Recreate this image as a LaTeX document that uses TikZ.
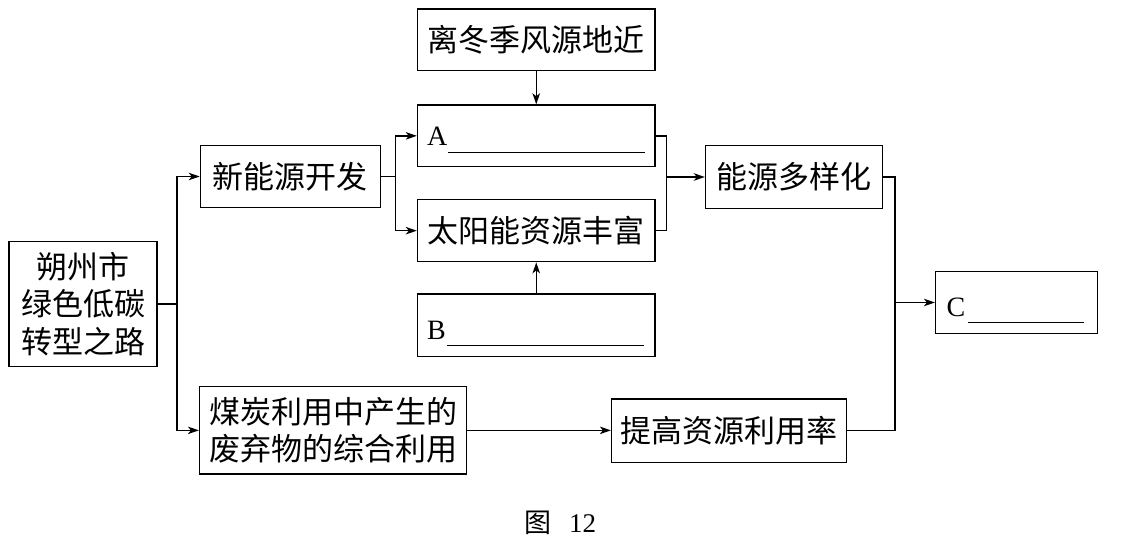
\documentclass[tikz,border=0pt]{standalone}
\usepackage{fontspec}
\setmainfont{Liberation Serif}
\newfontfamily\cjk{Noto Sans CJK SC}
\usetikzlibrary{arrows.meta}
\tikzset{
  box/.style={draw, line width=1.4pt, inner sep=0pt, align=center,
    font=\cjk\fontsize{31}{37.5}\selectfont},
  conn/.style={line width=1.4pt},
  arr/.style={conn, -{Stealth[length=11pt,width=7.5pt,inset=3pt]}},
  lbl/.style={inner sep=0pt, font=\fontsize{28}{30}\selectfont},
}
\begin{document}
\begin{tikzpicture}[x=1pt,y=-1pt]
\useasboundingbox (0,0) rectangle (1139,545);
% boxes
\node[box, minimum width=237.5pt, minimum height=61.7pt] (top) at (536.25,39.85) {离冬季风源地近};
\node[box, minimum width=237.5pt, minimum height=61.7pt] (A) at (536.25,135.85) {};
\node[box, minimum width=237.5pt, minimum height=62pt] (sun) at (536.25,230.7) {太阳能资源丰富};
\node[box, minimum width=237.5pt, minimum height=62.7pt] (B) at (536.25,325.35) {};
\node[box, minimum width=180pt, minimum height=62.4pt] (xin) at (290.4,176.5) {新能源开发};
\node[box, minimum width=148pt, minimum height=125.2pt] (shuo) at (83,304.1) {朔州市\\绿色低碳\\转型之路};
\node[box, minimum width=266.9pt, minimum height=87.3pt] (coal) at (333.05,430.35) {煤炭利用中产生的\\废弃物的综合利用};
\node[box, minimum width=234.9pt, minimum height=63.3pt] (tigao) at (729.05,430.65) {提高资源利用率};
\node[box, minimum width=177pt, minimum height=62.6pt] (duo) at (794,177) {能源多样化};
\node[box, minimum width=161.9pt, minimum height=61.6pt] (C) at (1016.55,302.5) {};
% fill-in labels
\node[lbl, anchor=base west] (At) at (427,146) {A\hspace{1pt}\rule[-6.9pt]{196.7pt}{1.2pt}};
\node[lbl, anchor=base west] (Bt) at (427,339) {B\hspace{1pt}\rule[-6.9pt]{196.7pt}{1.2pt}};
\node[lbl, anchor=base west] (Ct) at (946.5,316) {C\hspace{2.8pt}\rule[-6.9pt]{115.6pt}{1.2pt}};
% caption
\node[lbl, anchor=base west, font=\fontsize{27}{30}\selectfont] (cap) at (524,532) {{\cjk 图}\hspace{18pt}12};
% connectors
\coordinate (s1) at (177,304.1);
\draw[conn] (shuo.east) -- (s1);
\draw[arr] (s1) |- (xin.west);
\draw[arr] (s1) |- (coal.west);
\coordinate (x1) at (395.3,176.5);
\draw[conn] (xin.east) -- (x1);
\draw[arr] (x1) |- (A.west);
\draw[arr] (x1) |- (sun.west);
\draw[arr] (top.south) -- (A.north);
\draw[arr] (B.north) -- (sun.south);
\coordinate (m1) at (666.5,177);
\draw[conn] (A.east) -| (m1);
\draw[conn] (sun.east) -| (m1);
\draw[arr] (m1) -- (duo.west);
\draw[arr] (coal.east) -- (coal.east -| tigao.west);
\coordinate (m2) at (895,302.5);
\draw[conn] (duo.east) -| (m2);
\draw[conn] (tigao.east) -| (m2);
\draw[arr] (m2) -- (C.west);
\end{tikzpicture}
\end{document}
